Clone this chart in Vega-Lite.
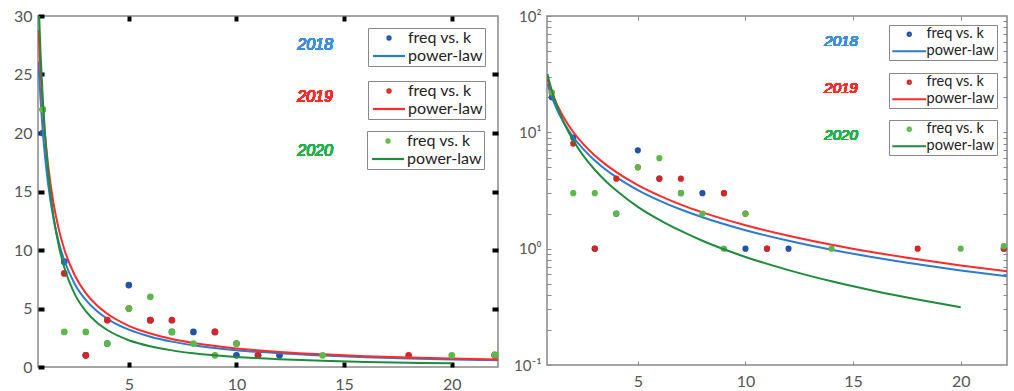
{
  "$schema": "https://vega.github.io/schema/vega-lite/v6.json",
  "background": "white",
  "padding": {"left": 12, "top": 7, "right": 2, "bottom": 0},
  "config": {
    "font": "Lato",
    "axis": {"labelFont": "Lato", "grid": false, "title": null, "domain": false, "labelColor": "#555"},
    "view": {"stroke": "#888", "strokeWidth": 1.5},
    "legend": {"labelFont": "Lato", "title": null, "orient": "none", "padding": 2, "strokeColor": "#888", "fillColor": "white", "labelColor": "#222", "symbolSize": 10, "symbolStrokeWidth": 2.2, "symbolOpacity": 1, "rowPadding": 2, "symbolOffset": 11}
  },
  "datasets": {
    "d": [
      {"year": "2018", "series": "freq vs. k", "k": 1, "freq": 20},
      {"year": "2018", "series": "freq vs. k", "k": 2, "freq": 9},
      {"year": "2018", "series": "freq vs. k", "k": 3, "freq": 1},
      {"year": "2018", "series": "freq vs. k", "k": 4, "freq": 2},
      {"year": "2018", "series": "freq vs. k", "k": 5, "freq": 7},
      {"year": "2018", "series": "freq vs. k", "k": 6, "freq": 4},
      {"year": "2018", "series": "freq vs. k", "k": 7, "freq": 3},
      {"year": "2018", "series": "freq vs. k", "k": 8, "freq": 3},
      {"year": "2018", "series": "freq vs. k", "k": 9, "freq": 3},
      {"year": "2018", "series": "freq vs. k", "k": 10, "freq": 1},
      {"year": "2018", "series": "freq vs. k", "k": 11, "freq": 1},
      {"year": "2018", "series": "freq vs. k", "k": 12, "freq": 1},
      {"year": "2018", "series": "freq vs. k", "k": 22, "freq": 1},
      {"year": "2019", "series": "freq vs. k", "k": 1, "freq": 22},
      {"year": "2019", "series": "freq vs. k", "k": 2, "freq": 8},
      {"year": "2019", "series": "freq vs. k", "k": 3, "freq": 1},
      {"year": "2019", "series": "freq vs. k", "k": 4, "freq": 4},
      {"year": "2019", "series": "freq vs. k", "k": 5, "freq": 5},
      {"year": "2019", "series": "freq vs. k", "k": 6, "freq": 4},
      {"year": "2019", "series": "freq vs. k", "k": 7, "freq": 4},
      {"year": "2019", "series": "freq vs. k", "k": 9, "freq": 3},
      {"year": "2019", "series": "freq vs. k", "k": 10, "freq": 2},
      {"year": "2019", "series": "freq vs. k", "k": 11, "freq": 1},
      {"year": "2019", "series": "freq vs. k", "k": 18, "freq": 1},
      {"year": "2019", "series": "freq vs. k", "k": 22, "freq": 1},
      {"year": "2020", "series": "freq vs. k", "k": 1, "freq": 22},
      {"year": "2020", "series": "freq vs. k", "k": 2, "freq": 3},
      {"year": "2020", "series": "freq vs. k", "k": 3, "freq": 3},
      {"year": "2020", "series": "freq vs. k", "k": 4, "freq": 2},
      {"year": "2020", "series": "freq vs. k", "k": 5, "freq": 5},
      {"year": "2020", "series": "freq vs. k", "k": 6, "freq": 6},
      {"year": "2020", "series": "freq vs. k", "k": 7, "freq": 3},
      {"year": "2020", "series": "freq vs. k", "k": 8, "freq": 2},
      {"year": "2020", "series": "freq vs. k", "k": 9, "freq": 1},
      {"year": "2020", "series": "freq vs. k", "k": 10, "freq": 2},
      {"year": "2020", "series": "freq vs. k", "k": 14, "freq": 1},
      {"year": "2020", "series": "freq vs. k", "k": 20, "freq": 1},
      {"year": "2020", "series": "freq vs. k", "k": 22, "freq": 1.05},

      {"year": "2018", "series": "power-law", "k": 0.8, "freq": 26.09},
      {"year": "2018", "series": "power-law", "k": 0.9, "freq": 22.8},
      {"year": "2018", "series": "power-law", "k": 1, "freq": 20.2},
      {"year": "2018", "series": "power-law", "k": 1.1, "freq": 18.11},
      {"year": "2018", "series": "power-law", "k": 1.25, "freq": 15.64},
      {"year": "2018", "series": "power-law", "k": 1.5, "freq": 12.69},
      {"year": "2018", "series": "power-law", "k": 1.75, "freq": 10.63},
      {"year": "2018", "series": "power-law", "k": 2, "freq": 9.12},
      {"year": "2018", "series": "power-law", "k": 2.5, "freq": 7.06},
      {"year": "2018", "series": "power-law", "k": 3, "freq": 5.73},
      {"year": "2018", "series": "power-law", "k": 3.5, "freq": 4.8},
      {"year": "2018", "series": "power-law", "k": 4, "freq": 4.12},
      {"year": "2018", "series": "power-law", "k": 5, "freq": 3.19},
      {"year": "2018", "series": "power-law", "k": 6, "freq": 2.59},
      {"year": "2018", "series": "power-law", "k": 7, "freq": 2.17},
      {"year": "2018", "series": "power-law", "k": 8, "freq": 1.86},
      {"year": "2018", "series": "power-law", "k": 10, "freq": 1.44},
      {"year": "2018", "series": "power-law", "k": 12, "freq": 1.17},
      {"year": "2018", "series": "power-law", "k": 14, "freq": 0.979},
      {"year": "2018", "series": "power-law", "k": 16, "freq": 0.84},
      {"year": "2018", "series": "power-law", "k": 18, "freq": 0.734},
      {"year": "2018", "series": "power-law", "k": 20, "freq": 0.65},
      {"year": "2018", "series": "power-law", "k": 22.2, "freq": 0.577},

      {"year": "2019", "series": "power-law", "k": 0.8, "freq": 28.8},
      {"year": "2019", "series": "power-law", "k": 0.9, "freq": 25.17},
      {"year": "2019", "series": "power-law", "k": 1, "freq": 22.3},
      {"year": "2019", "series": "power-law", "k": 1.1, "freq": 19.99},
      {"year": "2019", "series": "power-law", "k": 1.25, "freq": 17.26},
      {"year": "2019", "series": "power-law", "k": 1.5, "freq": 14.01},
      {"year": "2019", "series": "power-law", "k": 1.75, "freq": 11.74},
      {"year": "2019", "series": "power-law", "k": 2, "freq": 10.07},
      {"year": "2019", "series": "power-law", "k": 2.5, "freq": 7.8},
      {"year": "2019", "series": "power-law", "k": 3, "freq": 6.32},
      {"year": "2019", "series": "power-law", "k": 3.5, "freq": 5.3},
      {"year": "2019", "series": "power-law", "k": 4, "freq": 4.55},
      {"year": "2019", "series": "power-law", "k": 5, "freq": 3.52},
      {"year": "2019", "series": "power-law", "k": 6, "freq": 2.86},
      {"year": "2019", "series": "power-law", "k": 7, "freq": 2.39},
      {"year": "2019", "series": "power-law", "k": 8, "freq": 2.05},
      {"year": "2019", "series": "power-law", "k": 10, "freq": 1.59},
      {"year": "2019", "series": "power-law", "k": 12, "freq": 1.29},
      {"year": "2019", "series": "power-law", "k": 14, "freq": 1.08},
      {"year": "2019", "series": "power-law", "k": 16, "freq": 0.927},
      {"year": "2019", "series": "power-law", "k": 18, "freq": 0.81},
      {"year": "2019", "series": "power-law", "k": 20, "freq": 0.718},
      {"year": "2019", "series": "power-law", "k": 22.2, "freq": 0.637},

      {"year": "2020", "series": "power-law", "k": 0.8, "freq": 31.66},
      {"year": "2020", "series": "power-law", "k": 0.9, "freq": 26.75},
      {"year": "2020", "series": "power-law", "k": 1, "freq": 23.0},
      {"year": "2020", "series": "power-law", "k": 1.1, "freq": 20.06},
      {"year": "2020", "series": "power-law", "k": 1.25, "freq": 16.7},
      {"year": "2020", "series": "power-law", "k": 1.5, "freq": 12.86},
      {"year": "2020", "series": "power-law", "k": 1.75, "freq": 10.32},
      {"year": "2020", "series": "power-law", "k": 2, "freq": 8.52},
      {"year": "2020", "series": "power-law", "k": 2.5, "freq": 6.19},
      {"year": "2020", "series": "power-law", "k": 3, "freq": 4.77},
      {"year": "2020", "series": "power-law", "k": 3.5, "freq": 3.82},
      {"year": "2020", "series": "power-law", "k": 4, "freq": 3.16},
      {"year": "2020", "series": "power-law", "k": 5, "freq": 2.29},
      {"year": "2020", "series": "power-law", "k": 6, "freq": 1.77},
      {"year": "2020", "series": "power-law", "k": 7, "freq": 1.42},
      {"year": "2020", "series": "power-law", "k": 8, "freq": 1.17},
      {"year": "2020", "series": "power-law", "k": 10, "freq": 0.849},
      {"year": "2020", "series": "power-law", "k": 12, "freq": 0.654},
      {"year": "2020", "series": "power-law", "k": 14, "freq": 0.524},
      {"year": "2020", "series": "power-law", "k": 16, "freq": 0.433},
      {"year": "2020", "series": "power-law", "k": 18, "freq": 0.366},
      {"year": "2020", "series": "power-law", "k": 20, "freq": 0.314}
    ]
  },
  "data": {"name": "d"},
  "spacing": 11,
  "resolve": {"scale": {"shape": "independent", "color": "independent"}, "legend": {"shape": "independent", "color": "independent"}},
  "hconcat": [
    {
      "width": 460,
      "height": 351,
      "resolve": {"scale": {"shape": "independent", "color": "independent"}, "legend": {"shape": "independent", "color": "independent"}, "axis": {"x": "independent", "y": "independent"}},
      "layer": [
        {
          "transform": [{"filter": "datum.series == 'freq vs. k' && datum.year == '2018'"}],
          "mark": {"type": "circle", "opacity": 1, "size": 45, "color": "#2152a8"},
          "encoding": {
            "x": {"field": "k", "type": "quantitative", "scale": {"domain": [0.78, 22.15], "nice": false, "zero": false},
              "axis": {"orient": "bottom", "values": [5, 10, 15, 20], "tickSize": -5, "tickWidth": 4, "tickColor": "black", "labelFontSize": 16, "labelPadding": 14}},
            "y": {"field": "freq", "type": "quantitative", "scale": {"domain": [0, 30], "nice": false, "zero": false},
              "axis": {"orient": "left", "values": [0, 5, 10, 15, 20, 25, 30], "tickSize": -6, "tickWidth": 4, "tickColor": "black", "labelFontSize": 16, "labelPadding": 12}}
          }
        },
        {
          "transform": [{"filter": "datum.series == 'power-law' && datum.year == '2018'"}],
          "mark": {"type": "line", "color": "#2b7bcf", "strokeWidth": 2, "interpolate": "monotone", "clip": true},
          "encoding": {
            "x": {"field": "k", "type": "quantitative", "axis": {"orient": "top", "values": [5, 10, 15, 20], "labels": false, "tickSize": -5, "tickWidth": 4, "tickColor": "black"}},
            "y": {"field": "freq", "type": "quantitative", "axis": {"orient": "right", "values": [5, 10, 15, 20, 25], "labels": false, "tickSize": -6, "tickWidth": 4, "tickColor": "black"}}
          }
        },
        {
          "transform": [{"filter": "datum.series == 'freq vs. k' && datum.year == '2019'"}],
          "mark": {"type": "circle", "opacity": 1, "size": 45, "color": "#d42626"},
          "encoding": {
            "x": {"field": "k", "type": "quantitative", "axis": null},
            "y": {"field": "freq", "type": "quantitative", "axis": null}
          }
        },
        {
          "transform": [{"filter": "datum.series == 'power-law' && datum.year == '2019'"}],
          "mark": {"type": "line", "color": "#ff2a2a", "strokeWidth": 2, "interpolate": "monotone", "clip": true},
          "encoding": {
            "x": {"field": "k", "type": "quantitative", "axis": null},
            "y": {"field": "freq", "type": "quantitative", "axis": null}
          }
        },
        {
          "transform": [{"filter": "datum.series == 'freq vs. k' && datum.year == '2020'"}],
          "mark": {"type": "circle", "opacity": 1, "size": 45, "color": "#5cb848"},
          "encoding": {
            "x": {"field": "k", "type": "quantitative", "axis": null},
            "y": {"field": "freq", "type": "quantitative", "axis": null}
          }
        },
        {
          "transform": [{"filter": "datum.series == 'power-law' && datum.year == '2020'"}],
          "mark": {"type": "line", "color": "#1e8c3c", "strokeWidth": 2, "interpolate": "monotone", "clip": true},
          "encoding": {
            "x": {"field": "k", "type": "quantitative", "axis": null},
            "y": {"field": "freq", "type": "quantitative", "axis": null}
          }
        },
        {
          "transform": [{"filter": "datum.year == 'legend'"}],
          "mark": {"type": "point", "filled": false, "size": 10, "strokeWidth": 2.2},
          "encoding": {
            "x": {"field": "k", "type": "quantitative", "axis": null},
            "y": {"field": "freq", "type": "quantitative", "axis": null},
            "color": {"field": "series", "type": "nominal", "scale": {"domain": ["freq vs. k", "power-law"], "range": ["#2152a8", "#2b7bcf"]},
              "legend": {"legendX": 330, "legendY": 12, "labelFontSize": 16, "labelOffset": 11}},
            "shape": {"field": "series", "type": "nominal", "scale": {"domain": ["freq vs. k", "power-law"], "range": ["circle", "M-10.1,0H10.1"]},
              "legend": {"legendX": 330, "legendY": 12, "labelFontSize": 16, "labelOffset": 11}}
          }
        },
        {
          "transform": [{"filter": "datum.year == 'legend'"}],
          "mark": {"type": "point", "filled": false, "size": 10, "strokeWidth": 2.2},
          "encoding": {
            "x": {"field": "k", "type": "quantitative", "axis": null},
            "y": {"field": "freq", "type": "quantitative", "axis": null},
            "color": {"field": "series", "type": "nominal", "scale": {"domain": ["freq vs. k", "power-law"], "range": ["#d42626", "#ff2a2a"]},
              "legend": {"legendX": 330, "legendY": 65, "labelFontSize": 16, "labelOffset": 11}},
            "shape": {"field": "series", "type": "nominal", "scale": {"domain": ["freq vs. k", "power-law"], "range": ["circle", "M-10.1,0H10.1"]},
              "legend": {"legendX": 330, "legendY": 65, "labelFontSize": 16, "labelOffset": 11}}
          }
        },
        {
          "transform": [{"filter": "datum.year == 'legend'"}],
          "mark": {"type": "point", "filled": false, "size": 10, "strokeWidth": 2.2},
          "encoding": {
            "x": {"field": "k", "type": "quantitative", "axis": null},
            "y": {"field": "freq", "type": "quantitative", "axis": null},
            "color": {"field": "series", "type": "nominal", "scale": {"domain": ["freq vs. k", "power-law"], "range": ["#5cb848", "#1e8c3c"]},
              "legend": {"legendX": 329, "legendY": 115, "labelFontSize": 16, "labelOffset": 11}},
            "shape": {"field": "series", "type": "nominal", "scale": {"domain": ["freq vs. k", "power-law"], "range": ["circle", "M-10.1,0H10.1"]},
              "legend": {"legendX": 329, "legendY": 115, "labelFontSize": 16, "labelOffset": 11}}
          }
        },
        {
          "mark": {"type": "text", "text": "2018", "fontStyle": "italic", "fontWeight": "normal", "fontSize": 16, "color": "#3d8fdb", "font": "Liberation Sans"},
          "encoding": {"x": {"datum": 13.65, "type": "quantitative", "axis": null}, "y": {"datum": 27.5, "type": "quantitative", "axis": null}}
        },
        {
          "mark": {"type": "text", "text": "2019", "fontStyle": "italic", "fontWeight": "normal", "fontSize": 16, "color": "#ff2a2a", "font": "Liberation Sans"},
          "encoding": {"x": {"datum": 13.65, "type": "quantitative", "axis": null}, "y": {"datum": 23.1, "type": "quantitative", "axis": null}}
        },
        {
          "mark": {"type": "text", "text": "2020", "fontStyle": "italic", "fontWeight": "normal", "fontSize": 16, "color": "#22b14c", "font": "Liberation Sans"},
          "encoding": {"x": {"datum": 13.65, "type": "quantitative", "axis": null}, "y": {"datum": 18.5, "type": "quantitative", "axis": null}}
        }
      ]
    },
    {
      "width": 460,
      "height": 349,
      "resolve": {"scale": {"shape": "independent", "color": "independent"}, "legend": {"shape": "independent", "color": "independent"}, "axis": {"x": "independent", "y": "independent"}},
      "layer": [
        {
          "transform": [{"filter": "datum.series == 'freq vs. k' && datum.year == '2018'"}],
          "mark": {"type": "circle", "opacity": 1, "size": 38, "color": "#2152a8"},
          "encoding": {
            "x": {"field": "k", "type": "quantitative", "scale": {"domain": [0.78, 22.15], "nice": false, "zero": false},
              "axis": {"orient": "bottom", "values": [5, 10, 15, 20], "tickSize": -4, "tickWidth": 1, "tickColor": "#888", "labelFontSize": 16, "labelPadding": 12}},
            "y": {"field": "freq", "type": "quantitative", "scale": {"type": "log", "domain": [0.1, 100], "nice": false},
              "axis": {"orient": "left", "values": [0.1, 0.2, 0.3, 0.4, 0.5, 0.6, 0.7, 0.8, 0.9, 1, 2, 3, 4, 5, 6, 7, 8, 9, 10, 20, 30, 40, 50, 60, 70, 80, 90, 100],
                "labelExpr": "datum.value == 100 ? '10²' : datum.value == 10 ? '10¹' : datum.value == 1 ? '10⁰' : datum.value == 0.1 ? '10⁻¹' : ''",
                "tickSize": -4, "tickWidth": 1, "tickColor": "#888", "labelFontSize": 15, "labelPadding": 10, "labelOverlap": false}}
          }
        },
        {
          "transform": [{"filter": "datum.series == 'power-law' && datum.year == '2018'"}],
          "mark": {"type": "line", "color": "#2b7bcf", "strokeWidth": 2, "interpolate": "monotone", "clip": true},
          "encoding": {
            "x": {"field": "k", "type": "quantitative", "axis": {"orient": "top", "values": [5, 10, 15, 20], "labels": false, "tickSize": -4, "tickWidth": 1, "tickColor": "#888"}},
            "y": {"field": "freq", "type": "quantitative", "axis": {"orient": "right", "values": [0.2, 0.3, 0.4, 0.5, 0.6, 0.7, 0.8, 0.9, 1, 2, 3, 4, 5, 6, 7, 8, 9, 10, 20, 30, 40, 50, 60, 70, 80, 90], "labels": false, "tickSize": -4, "tickWidth": 1, "tickColor": "#888"}}
          }
        },
        {
          "transform": [{"filter": "datum.series == 'freq vs. k' && datum.year == '2019'"}],
          "mark": {"type": "circle", "opacity": 1, "size": 38, "color": "#d42626"},
          "encoding": {
            "x": {"field": "k", "type": "quantitative", "axis": null},
            "y": {"field": "freq", "type": "quantitative", "axis": null}
          }
        },
        {
          "transform": [{"filter": "datum.series == 'power-law' && datum.year == '2019'"}],
          "mark": {"type": "line", "color": "#ff2a2a", "strokeWidth": 2, "interpolate": "monotone", "clip": true},
          "encoding": {
            "x": {"field": "k", "type": "quantitative", "axis": null},
            "y": {"field": "freq", "type": "quantitative", "axis": null}
          }
        },
        {
          "transform": [{"filter": "datum.series == 'freq vs. k' && datum.year == '2020'"}],
          "mark": {"type": "circle", "opacity": 1, "size": 38, "color": "#5cb848"},
          "encoding": {
            "x": {"field": "k", "type": "quantitative", "axis": null},
            "y": {"field": "freq", "type": "quantitative", "axis": null}
          }
        },
        {
          "transform": [{"filter": "datum.series == 'power-law' && datum.year == '2020'"}],
          "mark": {"type": "line", "color": "#1e8c3c", "strokeWidth": 2, "interpolate": "monotone", "clip": true},
          "encoding": {
            "x": {"field": "k", "type": "quantitative", "axis": null},
            "y": {"field": "freq", "type": "quantitative", "axis": null}
          }
        },
        {
          "transform": [{"filter": "datum.year == 'legend'"}],
          "mark": {"type": "point", "filled": false, "size": 10, "strokeWidth": 2.2},
          "encoding": {
            "x": {"field": "k", "type": "quantitative", "axis": null},
            "y": {"field": "freq", "type": "quantitative", "axis": null},
            "color": {"field": "series", "type": "nominal", "scale": {"domain": ["freq vs. k", "power-law"], "range": ["#2152a8", "#2b7bcf"]},
              "legend": {"legendX": 342, "legendY": 9, "labelFontSize": 14.5, "labelOffset": 10}},
            "shape": {"field": "series", "type": "nominal", "scale": {"domain": ["freq vs. k", "power-law"], "range": ["circle", "M-10.7,0H10.7"]},
              "legend": {"legendX": 342, "legendY": 9, "labelFontSize": 14.5, "labelOffset": 10}}
          }
        },
        {
          "transform": [{"filter": "datum.year == 'legend'"}],
          "mark": {"type": "point", "filled": false, "size": 10, "strokeWidth": 2.2},
          "encoding": {
            "x": {"field": "k", "type": "quantitative", "axis": null},
            "y": {"field": "freq", "type": "quantitative", "axis": null},
            "color": {"field": "series", "type": "nominal", "scale": {"domain": ["freq vs. k", "power-law"], "range": ["#d42626", "#ff2a2a"]},
              "legend": {"legendX": 342, "legendY": 57, "labelFontSize": 14.5, "labelOffset": 10}},
            "shape": {"field": "series", "type": "nominal", "scale": {"domain": ["freq vs. k", "power-law"], "range": ["circle", "M-10.7,0H10.7"]},
              "legend": {"legendX": 342, "legendY": 57, "labelFontSize": 14.5, "labelOffset": 10}}
          }
        },
        {
          "transform": [{"filter": "datum.year == 'legend'"}],
          "mark": {"type": "point", "filled": false, "size": 10, "strokeWidth": 2.2},
          "encoding": {
            "x": {"field": "k", "type": "quantitative", "axis": null},
            "y": {"field": "freq", "type": "quantitative", "axis": null},
            "color": {"field": "series", "type": "nominal", "scale": {"domain": ["freq vs. k", "power-law"], "range": ["#5cb848", "#1e8c3c"]},
              "legend": {"legendX": 342, "legendY": 104, "labelFontSize": 14.5, "labelOffset": 10}},
            "shape": {"field": "series", "type": "nominal", "scale": {"domain": ["freq vs. k", "power-law"], "range": ["circle", "M-10.7,0H10.7"]},
              "legend": {"legendX": 342, "legendY": 104, "labelFontSize": 14.5, "labelOffset": 10}}
          }
        },
        {
          "mark": {"type": "text", "text": "2018", "fontStyle": "italic", "fontWeight": "normal", "fontSize": 15, "color": "#3d8fdb", "font": "Liberation Sans"},
          "encoding": {"x": {"datum": 14.44, "type": "quantitative", "axis": null}, "y": {"datum": 60.9, "type": "quantitative", "axis": null}}
        },
        {
          "mark": {"type": "text", "text": "2019", "fontStyle": "italic", "fontWeight": "normal", "fontSize": 15, "color": "#ff2a2a", "font": "Liberation Sans"},
          "encoding": {"x": {"datum": 14.44, "type": "quantitative", "axis": null}, "y": {"datum": 23.9, "type": "quantitative", "axis": null}}
        },
        {
          "mark": {"type": "text", "text": "2020", "fontStyle": "italic", "fontWeight": "normal", "fontSize": 15, "color": "#22b14c", "font": "Liberation Sans"},
          "encoding": {"x": {"datum": 14.44, "type": "quantitative", "axis": null}, "y": {"datum": 9.42, "type": "quantitative", "axis": null}}
        }
      ]
    }
  ]
}
